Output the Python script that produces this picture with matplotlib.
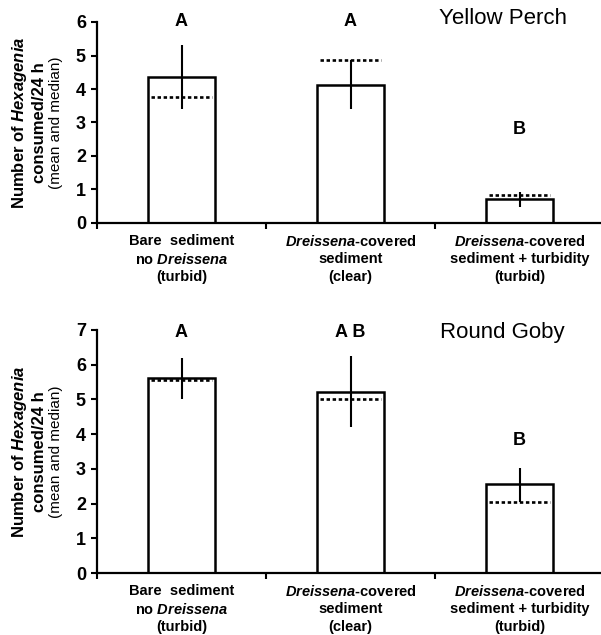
import matplotlib
matplotlib.use("Agg")
import matplotlib.pyplot as plt
import numpy as np

plt.rcParams['font.family'] = ['Liberation Sans', 'DejaVu Sans']
plt.rcParams['mathtext.fontset'] = 'custom'
plt.rcParams['mathtext.it'] = 'Liberation Sans:italic:bold'
plt.rcParams['mathtext.rm'] = 'Liberation Sans:bold'
plt.rcParams['mathtext.bf'] = 'Liberation Sans:bold'

# categories (x labels)
categories = [
    "Bare  sediment\nno $Dreissena$\n(turbid)",
    "$Dreissena$-covered\nsediment\n(clear)",
    "$Dreissena$-covered\nsediment + turbidity\n(turbid)",
]

# Yellow Perch
perch_mean = [4.37, 4.11, 0.72]
perch_median = [3.76, 4.86, 0.83]
perch_err_low = [3.41, 3.39, 0.49]
perch_err_high = [5.32, 4.86, 0.92]
perch_letters = ["A", "A", "B"]

# Round Goby
goby_mean = [5.61, 5.20, 2.56]
goby_median = [5.55, 5.00, 2.04]
goby_err_low = [5.00, 4.20, 2.04]
goby_err_high = [6.20, 6.25, 3.02]
goby_letters = ["A", "A B", "B"]


def draw_panel(ax, mean, median, lo, hi, letters, letter_y, ymax, title, title_y):
    x = np.arange(len(mean)) + 0.5
    w = 0.40
    mean = np.array(mean)
    ax.bar(x, mean, width=w, color='white', edgecolor='black', linewidth=1.8, zorder=2)
    ax.hlines(median, x - w / 2 + 0.02, x + w / 2 - 0.02, colors='black',
              linewidth=1.9, linestyles=(0, (1.3, 1.0)), zorder=3)
    yerr = [mean - np.array(lo), np.array(hi) - mean]
    ax.errorbar(x, mean, yerr=yerr, fmt='none', ecolor='black', elinewidth=1.5,
                capsize=0, zorder=4)
    for xi, lab, ly in zip(x, letters, letter_y):
        ax.text(xi, ly, lab, ha='center', va='center', fontsize=13,
                fontweight='bold', clip_on=False)
    ax.text(2.4, title_y, title, ha='center', va='center', fontsize=16, clip_on=False)

    ax.set_xlim(0, 3)
    ax.set_ylim(0, ymax)
    ax.set_yticks(range(0, ymax + 1))
    ax.set_xticks([0, 1, 2, 3])
    ax.set_xticklabels([])
    ax.set_xticks(x, minor=True)
    ax.set_xticklabels(categories, minor=True, fontsize=10.5, fontweight='bold',
                       linespacing=1.3)
    ax.tick_params(axis='x', which='minor', length=0, pad=8)
    ax.tick_params(axis='x', which='major', direction='out', length=4, width=1.5)
    ax.tick_params(axis='y', direction='out', length=4, width=1.5, pad=4)
    for t in ax.get_yticklabels():
        t.set_fontsize(13)
        t.set_fontweight('bold')
    ax.spines['top'].set_visible(False)
    ax.spines['right'].set_visible(False)
    ax.spines['left'].set_linewidth(1.6)
    ax.spines['bottom'].set_linewidth(1.6)

    # y label: three lines
    xl = [-0.152, -0.113, -0.080]
    ax.text(xl[0], 0.5, "Number of $Hexagenia$", transform=ax.transAxes, rotation=90,
            ha='center', va='center', fontsize=12, fontweight='bold')
    ax.text(xl[1], 0.5, "consumed/24 h", transform=ax.transAxes, rotation=90,
            ha='center', va='center', fontsize=12, fontweight='bold')
    ax.text(xl[2], 0.5, "(mean and median)", transform=ax.transAxes, rotation=90,
            ha='center', va='center', fontsize=11)


fig = plt.figure(figsize=(6.01, 6.35), dpi=100)
ax1 = fig.add_axes([97 / 601, 1 - 223 / 635, 507 / 601, 201 / 635])
ax2 = fig.add_axes([97 / 601, 1 - 573 / 635, 507 / 601, 243 / 635])

draw_panel(ax1, perch_mean, perch_median, perch_err_low, perch_err_high,
           perch_letters, [6.0, 6.0, 2.8], 6, "Yellow Perch", 6.1)
draw_panel(ax2, goby_mean, goby_median, goby_err_low, goby_err_high,
           goby_letters, [6.92, 6.92, 3.83], 7, "Round Goby", 6.92)

fig.savefig("out.png", dpi=100)
